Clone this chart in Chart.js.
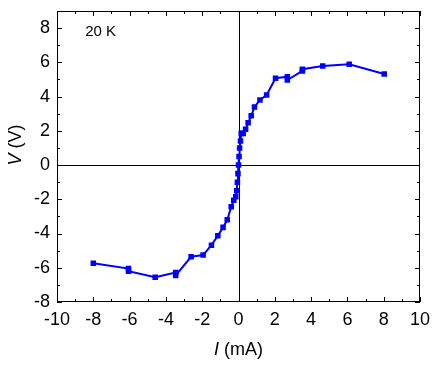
<!DOCTYPE html>
<html>
<head>
<meta charset="utf-8">
<script src="https://cdn.jsdelivr.net/npm/chart.js@4/dist/chart.umd.min.js"></script>
<style>
  html, body { margin: 0; padding: 0; background: #fff; }
  #wrap { width: 436px; height: 365px; }
</style>
</head>
<body>
<div id="wrap"><canvas id="ivChart"></canvas></div>
<script>
// I-V sweep at 20 K
const currentMA = [-8.0, -6.06, -6.06, -4.59, -3.46, -3.46, -2.61, -1.95, -1.49, -1.14, -0.85, -0.62,
    -0.40, -0.26, -0.15, -0.10, -0.06, -0.03, 0.0, 0.03, 0.06, 0.11, 0.15, 0.26, 0.39, 0.53, 0.70,
    0.88, 1.18, 1.55, 2.04, 2.69, 2.69, 3.52, 3.52, 4.64, 6.10, 8.03]
const voltageV = [-5.73, -6.05, -6.2, -6.55, -6.28, -6.45, -5.36, -5.26, -4.68, -4.13, -3.64, -3.2,
    -2.44, -2.05, -1.85, -1.5, -1.0, -0.5, 0.0, 0.5, 1.0, 1.4, 1.85, 1.85, 2.09, 2.47, 2.88,
    3.39, 3.80, 4.09, 5.07, 5.16, 4.97, 5.50, 5.60, 5.79, 5.89, 5.32]

const xTicks = [-10, -8, -6, -4, -2, 0, 2, 4, 6, 8, 10]
const yTicks = [-8, -6, -4, -2, 0, 2, 4, 6, 8]
const xMinor = [-9, -7, -5, -3, -1, 1, 3, 5, 7, 9]
const yMinor = [-7, -5, -3, -1, 1, 3, 5, 7]

const tempLabel = '20 K'

const FONT = 'Liberation Sans, Arial, Helvetica, sans-serif'

const frame = {
    id: 'frame',
    beforeDatasetsDraw(chart) {
        const { ctx, chartArea: a, scales: { x, y } } = chart
        ctx.save()
        ctx.strokeStyle = '#000'
        ctx.lineWidth = 1
        ctx.beginPath()
        const x0 = Math.round(x.getPixelForValue(0)) + 0.5
        const y0 = Math.round(y.getPixelForValue(0)) + 0.5
        ctx.moveTo(x0, a.top)
        ctx.lineTo(x0, a.bottom)
        ctx.moveTo(a.left, y0)
        ctx.lineTo(a.right, y0)
        ctx.stroke()
        ctx.restore()
    },
    afterDraw(chart) {
        const { ctx, chartArea: a, scales: { x, y } } = chart
        ctx.save()
        ctx.strokeStyle = '#000'
        ctx.lineWidth = 1
        ctx.strokeRect(a.left + 0.5, a.top + 0.5, a.right - a.left - 1, a.bottom - a.top - 1)

        ctx.beginPath()
        const tick = (vals, len) => {
            vals.forEach(v => {
                const px = Math.round(x.getPixelForValue(v)) + 0.5
                ctx.moveTo(px, a.bottom); ctx.lineTo(px, a.bottom - len)
                ctx.moveTo(px, a.top); ctx.lineTo(px, a.top + len)
            })
        }
        const tickY = (vals, len) => {
            vals.forEach(v => {
                const py = Math.round(y.getPixelForValue(v)) + 0.5
                ctx.moveTo(a.left, py); ctx.lineTo(a.left + len, py)
                ctx.moveTo(a.right, py); ctx.lineTo(a.right - len, py)
            })
        }
        tick(xTicks, 5); tick(xMinor, 3)
        tickY(yTicks, 5); tickY(yMinor, 3)
        ctx.stroke()

        // temperature label
        ctx.fillStyle = '#000'
        ctx.font = '15px ' + FONT
        ctx.textAlign = 'left'
        ctx.textBaseline = 'middle'
        ctx.fillText(tempLabel, x.getPixelForValue(-8.45), y.getPixelForValue(7.78))

        // axis titles with italic symbols
        const titleRow = (parts, px, py) => {
            let w = 0
            parts.forEach(p => { ctx.font = p[1] + ' 18px ' + FONT; w += ctx.measureText(p[0]).width })
            let pos = px - w / 2
            parts.forEach(p => {
                ctx.font = p[1] + ' 18px ' + FONT
                ctx.fillText(p[0], pos, py)
                pos += ctx.measureText(p[0]).width
            })
        }
        titleRow([['I', 'italic'], [' (mA)', 'normal']], x.getPixelForValue(0), 350)

        ctx.translate(16, 145)
        ctx.rotate(-Math.PI / 2)
        titleRow([['V', 'italic'], [' (V)', 'normal']], 0, 0)
        ctx.restore()
    }
}

new Chart(document.getElementById('ivChart'), {
    type: 'scatter',

    data: {
        datasets: [
            {
                label: 'I-V 20 K',
                data: currentMA.map((c, i) => ({ x: c, y: voltageV[i] })),
                showLine: true,
                borderColor: '#0000ff',
                backgroundColor: '#0000ff',
                borderWidth: 2,
                pointStyle: 'rect',
                pointRadius: 2.5,
                pointHoverRadius: 2.5,
                tension: 0
            }
        ]
    },

    options: {
        responsive: true,
        maintainAspectRatio: false,
        animation: false,
        events: [],

        layout: {
            padding: { left: 0, right: 16, top: 11, bottom: 0 }
        },

        plugins: {
            legend: { display: false },
            tooltip: { enabled: false }
        },

        scales: {
            x: {
                type: 'linear',
                min: -10,
                max: 10,
                afterBuildTicks: s => { s.ticks = xTicks.map(v => ({ value: v })) },
                afterFit: s => {
                    s.height = 63
                    s.paddingLeft = 0
                    s.paddingRight = 0
                },
                grid: { display: false, drawTicks: false },
                border: { display: false },
                ticks: {
                    color: '#000',
                    padding: 7,
                    maxRotation: 0,
                    font: { family: FONT, size: 18 }
                }
            },
            y: {
                type: 'linear',
                min: -8,
                max: 9,
                afterBuildTicks: s => { s.ticks = yTicks.map(v => ({ value: v })) },
                afterFit: s => {
                    s.width = 57
                    s.paddingTop = 0
                    s.paddingBottom = 0
                },
                grid: { display: false, drawTicks: false },
                border: { display: false },
                ticks: {
                    color: '#000',
                    padding: 7,
                    font: { family: FONT, size: 18 }
                }
            }
        }
    },

    plugins: [frame]
})
</script>
</body>
</html>
